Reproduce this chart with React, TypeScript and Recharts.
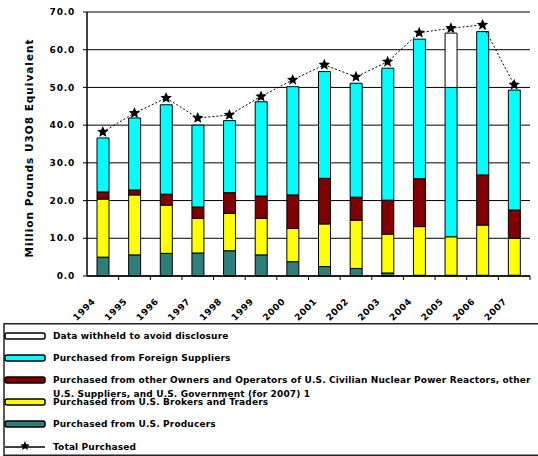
import { ComposedChart, Bar, Line, XAxis, YAxis, CartesianGrid, Label } from 'recharts'

const years = ['1994', '1995', '1996', '1997', '1998', '1999', '2000', '2001', '2002', '2003', '2004', '2005', '2006', '2007']
const producers = [5.0, 5.6, 6.0, 6.1, 6.7, 5.6, 3.8, 2.5, 2.0, 0.8, 0.2, 0.2, 0.2, 0.2]
const brokers = [15.4, 15.9, 12.8, 9.2, 9.9, 9.7, 8.8, 11.3, 12.8, 10.3, 12.9, 10.2, 13.3, 9.8]
const otherOwners = [1.9, 1.3, 2.9, 3.0, 5.5, 5.9, 8.9, 12.1, 6.1, 9.0, 12.7, 0, 13.3, 7.5]
const foreign = [14.3, 19.1, 23.7, 21.7, 19.1, 25.0, 28.7, 28.3, 30.2, 35.0, 37.0, 39.6, 38.0, 31.8]
const withheld = [0, 0, 0, 0, 0, 0, 0, 0, 0, 0, 0, 14.4, 0, 0]
const total = [38.2, 43.2, 47.2, 41.9, 42.7, 47.6, 52.0, 56.0, 52.8, 56.8, 64.5, 65.7, 66.6, 50.7]
const yTicks = [0, 10, 20, 30, 40, 50, 60, 70]

const data = years.map((year, i) => ({
  year,
  producers: producers[i],
  brokers: brokers[i],
  otherOwners: otherOwners[i],
  foreign: foreign[i],
  withheld: withheld[i],
  total: total[i],
}))

const FONT = '"DejaVu Sans", sans-serif'
const BAND = (530 - 87) / years.length

const starPoints = (cx: number, cy: number, r: number) => {
  const pts: string[] = []
  for (let k = 0; k < 10; k++) {
    const rad = k % 2 === 0 ? r : r * 0.45
    const a = -Math.PI / 2 + (k * Math.PI) / 5
    pts.push(`${cx + rad * Math.cos(a)},${cy + rad * Math.sin(a)}`)
  }
  return pts.join(' ')
}

const StarDot = (props: any) => {
  const { cx, cy, index } = props
  if (cx == null || cy == null) return <g key={index} />
  return <polygon key={index} points={starPoints(cx, cy, 6)} fill="#000" />
}

const XTick = (props: any) => {
  const { x, y, payload } = props
  return (
    <g>
      <line x1={x + BAND / 2} x2={x + BAND / 2} y1={y} y2={y + 4} stroke="#000" />
      <text
        transform={`translate(${x - 7},${y + 26}) rotate(-45)`}
        textAnchor="end"
        fontFamily={FONT}
        fontWeight="bold"
        fontSize={9}
        letterSpacing={0.5}
        fill="#000"
      >
        {payload.value}
      </text>
    </g>
  )
}

const legendRows = [
  { label: ['Data withheld to avoid disclosure'], color: '#ffffff', y: 13 },
  { label: ['Purchased from Foreign Suppliers'], color: '#00ffff', y: 35 },
  {
    label: [
      'Purchased from other Owners and Operators of U.S. Civilian Nuclear Power Reactors, other',
      'U.S. Suppliers, and U.S. Government (for 2007) 1',
    ],
    color: '#800000',
    y: 57,
  },
  { label: ['Purchased from U.S. Brokers and Traders'], color: '#ffff00', y: 79 },
  { label: ['Purchased from U.S. Producers'], color: '#2e7f7c', y: 101 },
]

const legendText = { fontFamily: FONT, fontWeight: 'bold', fontSize: 9, letterSpacing: 0.15, fill: '#000' } as const

function LegendBox() {
  return (
    <svg width={538} height={133} style={{ position: 'absolute', left: 0, top: 323 }}>
      <rect x={4} y={0.75} width={540} height={131.5} fill="none" stroke="#222" strokeWidth={1.5} />
      {legendRows.map((r) => (
        <g key={r.y}>
          <rect x={5} y={r.y - 3} width={40} height={6} rx={2} fill={r.color} stroke="#000" strokeWidth={1.5} />
          {r.label.map((t, j) => (
            <text key={j} x={53} y={r.y + 3 + j * 14} {...legendText}>
              {t}
            </text>
          ))}
        </g>
      ))}
      <line x1={5} x2={45} y1={124} y2={124} stroke="#000" strokeWidth={1.5} />
      <polygon points={starPoints(25, 123, 5)} fill="#000" />
      <text x={53} y={127} {...legendText}>
        Total Purchased
      </text>
    </svg>
  )
}

export default function App() {
  return (
    <div style={{ position: 'absolute', left: 0, top: 0, width: 538, height: 456, background: '#fff' }}>
      <ComposedChart width={538} height={322} data={data} margin={{ top: 12, right: 8, left: 0, bottom: 0 }}>
        <CartesianGrid vertical={false} stroke="#000" strokeWidth={1} />
        <XAxis
          dataKey="year"
          height={46}
          tickSize={0}
          tickMargin={0}
          tickLine={false}
          axisLine={{ stroke: '#000', strokeWidth: 1.5 }}
          tick={<XTick />}
          interval={0}
        />
        <YAxis
          width={87}
          domain={[0, 70]}
          ticks={yTicks}
          tickSize={4}
          tickMargin={8}
          tickFormatter={(v: number) => v.toFixed(1)}
          axisLine={{ stroke: '#000', strokeWidth: 1.5 }}
          tickLine={{ stroke: '#000' }}
          tick={{ fill: '#000', fontFamily: FONT, fontWeight: 'bold', fontSize: 9, letterSpacing: 0.8 }}
        >
          <Label
            content={() => (
              <text
                transform="translate(33,148) rotate(-90)"
                textAnchor="middle"
                fontFamily={FONT}
                fontWeight="bold"
                fontSize={10.5}
                letterSpacing={1}
                fill="#000"
              >
                Million Pounds U3O8 Equivalent
              </text>
            )}
          />
        </YAxis>
        <Bar dataKey="producers" stackId="a" barSize={12} fill="#2e7f7c" stroke="#000" strokeWidth={1} isAnimationActive={false} />
        <Bar dataKey="brokers" stackId="a" barSize={12} fill="#ffff00" stroke="#000" strokeWidth={1} isAnimationActive={false} />
        <Bar dataKey="otherOwners" stackId="a" barSize={12} fill="#800000" stroke="#000" strokeWidth={1} isAnimationActive={false} />
        <Bar dataKey="foreign" stackId="a" barSize={12} fill="#00ffff" stroke="#000" strokeWidth={1} isAnimationActive={false} />
        <Bar dataKey="withheld" stackId="a" barSize={12} fill="#ffffff" stroke="#000" strokeWidth={1} isAnimationActive={false} />
        <Line
          dataKey="total"
          type="linear"
          stroke="#000"
          strokeWidth={1}
          strokeDasharray="2 2"
          dot={StarDot}
          activeDot={false}
          isAnimationActive={false}
        />
      </ComposedChart>
      <LegendBox />
    </div>
  )
}
